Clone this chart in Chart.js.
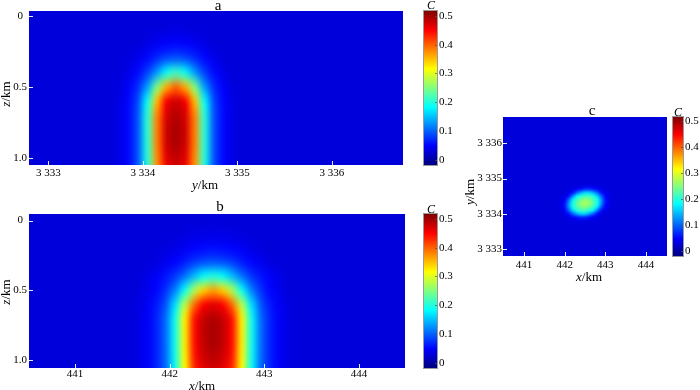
<!DOCTYPE html>
<html>
<head>
<meta charset="utf-8">
<script src="https://cdn.jsdelivr.net/npm/chart.js@4.4.1/dist/chart.umd.min.js"></script>
<style>
    body { margin: 0; background: #fff; width: 700px; height: 390px; position: relative; overflow: hidden; font-family: "Liberation Serif", serif; }
    .box { position: absolute; }
    .txt { position: absolute; transform: translate(-50%, -50%); white-space: nowrap; color: #000; font-size: 13px; line-height: 1; }
    .rot { transform: translate(-50%, -50%) rotate(-90deg); }
</style>
</head>
<body>
<div class="box" style="left:0;top:0;width:410px;height:195px"><canvas id="chartA"></canvas></div>
<div class="box" style="left:415px;top:0;width:50px;height:195px"><canvas id="barA"></canvas></div>
<div class="box" style="left:0;top:195px;width:410px;height:195px"><canvas id="chartB"></canvas></div>
<div class="box" style="left:415px;top:195px;width:50px;height:195px"><canvas id="barB"></canvas></div>
<div class="box" style="left:460px;top:100px;width:210px;height:190px"><canvas id="chartC"></canvas></div>
<div class="box" style="left:665px;top:100px;width:35px;height:170px"><canvas id="barC"></canvas></div>

<div class="txt" style="left:218px;top:5px;font-size:15px">a</div>
<div class="txt" style="left:220px;top:206px;font-size:15px">b</div>
<div class="txt" style="left:592px;top:110px;font-size:15px">c</div>
<div class="txt" style="left:205px;top:184px"><i>y</i>/km</div>
<div class="txt" style="left:202px;top:385px"><i>x</i>/km</div>
<div class="txt" style="left:589px;top:276px"><i>x</i>/km</div>
<div class="txt rot" style="left:5px;top:94px"><i>z</i>/km</div>
<div class="txt rot" style="left:5px;top:292px"><i>z</i>/km</div>
<div class="txt rot" style="left:469px;top:192px"><i>y</i>/km</div>
<div class="txt" style="left:431px;top:5px;font-size:12px"><i>C</i></div>
<div class="txt" style="left:431px;top:209px;font-size:12px"><i>C</i></div>
<div class="txt" style="left:678px;top:112px;font-size:12px"><i>C</i></div>

<script>
// colour scale (shared by all three panels)
const cMin = -0.018, cMax = 0.517;
const cbTicks = [0, 0.1, 0.2, 0.3, 0.4, 0.5];
const cbLabels = ['0', '0.1', '0.2', '0.3', '0.4', '0.5'];
const bgC = 0.03;

// axis ranges and ticks
const aYRange = [3332.796, 3336.754];
const aZRange = [-0.035, 1.049];
const bXRange = [440.514, 444.486];
const bZRange = [-0.047, 1.057];
const cXRange = [440.484, 444.516];
const cYRange = [3332.80, 3336.747];
const yTicks = [3333, 3334, 3335, 3336];
const yLabels = ['3 333', '3 334', '3 335', '3 336'];
const xTicks = [441, 442, 443, 444];
const xLabels = ['441', '442', '443', '444'];
const zTicks = [0, 0.5, 1.0];
const zLabels = ['0', '0.5', '1.0'];

// a: C on the y-z section
const aY = [3333.65, 3333.75, 3333.85, 3333.95, 3334.05, 3334.15, 3334.25, 3334.35, 3334.45, 3334.55, 3334.65, 3334.75, 3334.85, 3334.95, 3335.05];
const aZ = [0, 0.1, 0.2, 0.3, 0.4, 0.5, 0.6, 0.7, 0.8, 0.9, 1.0, 1.1];
const aC = [
    [0.03, 0.03, 0.03, 0.03, 0.03, 0.03, 0.03, 0.03, 0.03, 0.03, 0.03, 0.03, 0.03, 0.03, 0.03],
    [0.03, 0.03, 0.03, 0.03, 0.03, 0.031, 0.033, 0.034, 0.033, 0.031, 0.03, 0.03, 0.03, 0.03, 0.03],
    [0.03, 0.03, 0.03, 0.03, 0.037, 0.044, 0.05, 0.052, 0.05, 0.044, 0.037, 0.03, 0.03, 0.03, 0.03],
    [0.03, 0.03, 0.031, 0.04, 0.053, 0.071, 0.089, 0.095, 0.089, 0.071, 0.053, 0.04, 0.031, 0.03, 0.03],
    [0.03, 0.03, 0.038, 0.054, 0.084, 0.131, 0.19, 0.215, 0.19, 0.131, 0.084, 0.054, 0.038, 0.03, 0.03],
    [0.03, 0.032, 0.046, 0.073, 0.133, 0.249, 0.358, 0.398, 0.358, 0.249, 0.133, 0.073, 0.046, 0.032, 0.03],
    [0.03, 0.035, 0.052, 0.09, 0.19, 0.352, 0.455, 0.476, 0.455, 0.352, 0.19, 0.09, 0.052, 0.035, 0.03],
    [0.03, 0.036, 0.053, 0.095, 0.206, 0.381, 0.47, 0.49, 0.47, 0.381, 0.206, 0.095, 0.053, 0.036, 0.03],
    [0.03, 0.036, 0.053, 0.095, 0.207, 0.383, 0.476, 0.495, 0.476, 0.383, 0.207, 0.095, 0.053, 0.036, 0.03],
    [0.03, 0.036, 0.053, 0.095, 0.207, 0.383, 0.474, 0.493, 0.474, 0.383, 0.207, 0.095, 0.053, 0.036, 0.03],
    [0.03, 0.036, 0.053, 0.095, 0.205, 0.378, 0.465, 0.482, 0.465, 0.378, 0.205, 0.095, 0.053, 0.036, 0.03],
    [0.03, 0.036, 0.053, 0.094, 0.202, 0.37, 0.452, 0.468, 0.452, 0.37, 0.202, 0.094, 0.053, 0.036, 0.03]
];

// b: C on the x-z section
const bX = [441.56, 441.66, 441.76, 441.86, 441.96, 442.06, 442.16, 442.26, 442.36, 442.46, 442.56, 442.66, 442.76, 442.86, 442.96, 443.06, 443.16, 443.26, 443.36];
const bZ = [0, 0.1, 0.2, 0.3, 0.4, 0.5, 0.6, 0.7, 0.8, 0.9, 1.0, 1.1];
const bC = [
    [0.03, 0.03, 0.03, 0.03, 0.03, 0.03, 0.03, 0.03, 0.03, 0.03, 0.03, 0.03, 0.03, 0.03, 0.03, 0.03, 0.03, 0.03, 0.03],
    [0.03, 0.03, 0.03, 0.03, 0.03, 0.03, 0.032, 0.035, 0.036, 0.037, 0.036, 0.035, 0.032, 0.03, 0.03, 0.03, 0.03, 0.03, 0.03],
    [0.03, 0.03, 0.03, 0.03, 0.032, 0.037, 0.043, 0.05, 0.053, 0.055, 0.053, 0.05, 0.043, 0.037, 0.032, 0.03, 0.03, 0.03, 0.03],
    [0.03, 0.03, 0.03, 0.033, 0.041, 0.051, 0.063, 0.08, 0.091, 0.095, 0.091, 0.08, 0.063, 0.051, 0.041, 0.033, 0.03, 0.03, 0.03],
    [0.03, 0.03, 0.036, 0.045, 0.059, 0.078, 0.11, 0.149, 0.187, 0.2, 0.187, 0.149, 0.11, 0.078, 0.059, 0.045, 0.036, 0.03, 0.03],
    [0.03, 0.03, 0.039, 0.051, 0.075, 0.118, 0.19, 0.273, 0.34, 0.365, 0.34, 0.273, 0.19, 0.118, 0.075, 0.051, 0.039, 0.03, 0.03],
    [0.03, 0.033, 0.043, 0.061, 0.095, 0.167, 0.277, 0.392, 0.45, 0.464, 0.45, 0.392, 0.277, 0.167, 0.095, 0.061, 0.043, 0.033, 0.03],
    [0.03, 0.034, 0.045, 0.066, 0.107, 0.195, 0.325, 0.44, 0.479, 0.49, 0.479, 0.44, 0.325, 0.195, 0.107, 0.066, 0.045, 0.034, 0.03],
    [0.03, 0.034, 0.045, 0.066, 0.108, 0.196, 0.326, 0.443, 0.483, 0.495, 0.483, 0.443, 0.326, 0.196, 0.108, 0.066, 0.045, 0.034, 0.03],
    [0.03, 0.034, 0.045, 0.066, 0.108, 0.196, 0.326, 0.442, 0.481, 0.493, 0.481, 0.442, 0.326, 0.196, 0.108, 0.066, 0.045, 0.034, 0.03],
    [0.03, 0.034, 0.045, 0.066, 0.107, 0.194, 0.322, 0.436, 0.472, 0.483, 0.472, 0.436, 0.322, 0.194, 0.107, 0.066, 0.045, 0.034, 0.03],
    [0.03, 0.034, 0.045, 0.065, 0.105, 0.19, 0.316, 0.427, 0.46, 0.47, 0.46, 0.427, 0.316, 0.19, 0.105, 0.065, 0.045, 0.034, 0.03]
];

// c: C on the x-y plane
const cX = [441.8, 441.9, 442.0, 442.1, 442.2, 442.3, 442.4, 442.5, 442.6, 442.7, 442.8, 442.9, 443.0, 443.1, 443.2];
const cY = [3333.7, 3333.8, 3333.9, 3334.0, 3334.1, 3334.2, 3334.3, 3334.4, 3334.5, 3334.6, 3334.7, 3334.8, 3334.9];
const cC = [
    [0.03, 0.03, 0.03, 0.03, 0.03, 0.03, 0.03, 0.03, 0.03, 0.03, 0.03, 0.03, 0.03, 0.03, 0.03],
    [0.03, 0.03, 0.03, 0.03, 0.033, 0.035, 0.036, 0.036, 0.033, 0.03, 0.03, 0.03, 0.03, 0.03, 0.03],
    [0.03, 0.03, 0.032, 0.037, 0.051, 0.062, 0.073, 0.07, 0.057, 0.046, 0.035, 0.03, 0.03, 0.03, 0.03],
    [0.03, 0.03, 0.039, 0.058, 0.102, 0.138, 0.158, 0.158, 0.136, 0.1, 0.057, 0.037, 0.03, 0.03, 0.03],
    [0.03, 0.034, 0.051, 0.1, 0.16, 0.198, 0.216, 0.217, 0.204, 0.177, 0.117, 0.058, 0.036, 0.03, 0.03],
    [0.03, 0.036, 0.058, 0.125, 0.19, 0.224, 0.247, 0.253, 0.24, 0.214, 0.172, 0.1, 0.049, 0.033, 0.03],
    [0.03, 0.035, 0.057, 0.125, 0.192, 0.23, 0.258, 0.27, 0.258, 0.23, 0.192, 0.125, 0.057, 0.035, 0.03],
    [0.03, 0.033, 0.049, 0.1, 0.172, 0.214, 0.24, 0.253, 0.247, 0.224, 0.19, 0.125, 0.058, 0.036, 0.03],
    [0.03, 0.03, 0.036, 0.058, 0.117, 0.177, 0.204, 0.217, 0.216, 0.198, 0.16, 0.1, 0.051, 0.034, 0.03],
    [0.03, 0.03, 0.03, 0.037, 0.057, 0.1, 0.136, 0.158, 0.158, 0.138, 0.102, 0.058, 0.039, 0.03, 0.03],
    [0.03, 0.03, 0.03, 0.03, 0.035, 0.046, 0.057, 0.07, 0.073, 0.062, 0.051, 0.037, 0.032, 0.03, 0.03],
    [0.03, 0.03, 0.03, 0.03, 0.03, 0.03, 0.033, 0.036, 0.036, 0.035, 0.033, 0.03, 0.03, 0.03, 0.03],
    [0.03, 0.03, 0.03, 0.03, 0.03, 0.03, 0.03, 0.03, 0.03, 0.03, 0.03, 0.03, 0.03, 0.03, 0.03]
];

const tickFont = { family: 'Liberation Serif', size: 11 };

// jet colour map
function jet(v) {
    const t = Math.min(1, Math.max(0, (v - cMin) / (cMax - cMin)));
    const f = k => Math.round(255 * Math.min(1, Math.max(0, 1.5 - Math.abs(4 * t - k))));
    return [f(3), f(2), f(1)];
}
const rgb = c => `rgb(${c[0]},${c[1]},${c[2]})`;

// draws the grid cells on the plot, placed by the chart scales (smooth shading)
function heatLayer(cols, rows, vals) {
    return {
        id: 'heat',
        beforeDatasetsDraw(chart) {
            const { ctx, chartArea: ca, scales: { x, y } } = chart;
            const nc = cols.length, nr = rows.length;
            const dx = cols[1] - cols[0], dy = rows[1] - rows[0];
            const x0 = x.getPixelForValue(cols[0] - dx / 2), x1 = x.getPixelForValue(cols[nc - 1] + dx / 2);
            const y0 = y.getPixelForValue(rows[0] - dy / 2), y1 = y.getPixelForValue(rows[nr - 1] + dy / 2);
            const flip = y0 > y1;
            const off = document.createElement('canvas');
            off.width = nc; off.height = nr;
            const octx = off.getContext('2d');
            const img = octx.createImageData(nc, nr);
            for (let r = 0; r < nr; r++) {
                const row = vals[flip ? nr - 1 - r : r];
                for (let c = 0; c < nc; c++) {
                    const col = jet(row[c]);
                    const i = (r * nc + c) * 4;
                    img.data[i] = col[0]; img.data[i + 1] = col[1]; img.data[i + 2] = col[2]; img.data[i + 3] = 255;
                }
            }
            octx.putImageData(img, 0, 0);
            ctx.save();
            ctx.beginPath();
            ctx.rect(ca.left, ca.top, ca.width, ca.height);
            ctx.clip();
            ctx.fillStyle = rgb(jet(bgC));
            ctx.fillRect(ca.left, ca.top, ca.width, ca.height);
            ctx.imageSmoothingEnabled = true;
            ctx.imageSmoothingQuality = 'high';
            ctx.drawImage(off, Math.min(x0, x1), Math.min(y0, y1), Math.abs(x1 - x0), Math.abs(y1 - y0));
            ctx.restore();
        }
    };
}

// small white ticks pointing into the plot
const innerTicks = {
    id: 'innerTicks',
    afterDraw(chart) {
        const { ctx, chartArea: ca, scales: { x, y } } = chart;
        ctx.save();
        ctx.strokeStyle = 'rgba(255,255,255,0.9)';
        ctx.lineWidth = 1;
        x.ticks.forEach(t => {
            const px = Math.round(x.getPixelForValue(t.value)) + 0.5;
            ctx.beginPath(); ctx.moveTo(px, ca.bottom); ctx.lineTo(px, ca.bottom - 4); ctx.stroke();
        });
        y.ticks.forEach(t => {
            const py = Math.round(y.getPixelForValue(t.value)) + 0.5;
            ctx.beginPath(); ctx.moveTo(ca.left, py); ctx.lineTo(ca.left + 4, py); ctx.stroke();
        });
        ctx.restore();
    }
};

function heatChart(id, o) {
    return new Chart(document.getElementById(id), {
        type: 'scatter',
        data: { datasets: [{ data: [] }] },
        options: {
            responsive: true,
            maintainAspectRatio: false,
            animation: false,
            events: [],
            layout: { padding: { top: o.top, right: o.right, left: 0, bottom: 0 } },
            plugins: { legend: { display: false }, tooltip: { enabled: false } },
            scales: {
                x: {
                    type: 'linear', min: o.xr[0], max: o.xr[1],
                    grid: { display: false, drawTicks: false }, border: { display: false },
                    ticks: { font: tickFont, color: '#000', padding: o.xPad, maxRotation: 0, autoSkip: false,
                        callback: (v, i) => o.xl[i] },
                    afterBuildTicks: s => { s.ticks = o.xt.map(v => ({ value: v })); },
                    afterFit: s => { s.height = o.xh; }
                },
                y: {
                    type: 'linear', min: o.yr[0], max: o.yr[1], reverse: o.rev,
                    grid: { display: false, drawTicks: false }, border: { display: false },
                    ticks: { font: tickFont, color: '#000', padding: o.yPad, crossAlign: o.cross, autoSkip: false,
                        callback: (v, i) => o.yl[i] },
                    afterBuildTicks: s => { s.ticks = o.yt.map(v => ({ value: v })); },
                    afterFit: s => { s.width = o.yw; }
                }
            }
        },
        plugins: [heatLayer(o.cols, o.rows, o.vals), innerTicks]
    });
}

// colour bar painted through its own y scale
const barFill = {
    id: 'barFill',
    beforeDatasetsDraw(chart) {
        const { ctx, chartArea: ca, scales: { y } } = chart;
        ctx.save();
        for (let py = Math.floor(ca.top); py < ca.bottom; py++) {
            ctx.fillStyle = rgb(jet(y.getValueForPixel(py + 0.5)));
            ctx.fillRect(ca.left, py, ca.width, 1);
        }
        ctx.strokeStyle = '#9a9a9a';
        ctx.lineWidth = 1;
        ctx.strokeRect(Math.round(ca.left) - 0.5, Math.round(ca.top) - 0.5, Math.round(ca.width) + 1, Math.round(ca.height) + 1);
        ctx.strokeStyle = 'rgba(80,80,80,0.7)';
        y.ticks.forEach(t => {
            const py = Math.round(y.getPixelForValue(t.value)) + 0.5;
            ctx.beginPath(); ctx.moveTo(ca.right - 2, py); ctx.lineTo(ca.right, py); ctx.stroke();
        });
        ctx.restore();
    }
};

function colorBar(id, o) {
    return new Chart(document.getElementById(id), {
        type: 'scatter',
        data: { datasets: [{ data: [] }] },
        options: {
            responsive: true,
            maintainAspectRatio: false,
            animation: false,
            events: [],
            layout: { padding: { top: o.top, bottom: o.bottom, left: o.left, right: 0 } },
            plugins: { legend: { display: false }, tooltip: { enabled: false } },
            scales: {
                x: { display: false, min: 0, max: 1 },
                y: {
                    position: 'right', min: cMin, max: cMax,
                    grid: { display: false, drawTicks: false }, border: { display: false },
                    ticks: { font: tickFont, color: '#000', padding: 2, autoSkip: false,
                        callback: (v, i) => cbLabels[i] },
                    afterBuildTicks: s => { s.ticks = cbTicks.map(v => ({ value: v })); },
                    afterFit: s => { s.width = o.w; }
                }
            }
        },
        plugins: [barFill]
    });
}

heatChart('chartA', { top: 11, right: 7, xh: 30, yw: 29, xPad: 2, yPad: 2, cross: 'center', rev: true,
    xr: aYRange, yr: aZRange, xt: yTicks, xl: yLabels, yt: zTicks, yl: zLabels, cols: aY, rows: aZ, vals: aC });
heatChart('chartB', { top: 19, right: 5, xh: 22, yw: 29, xPad: 0, yPad: 2, cross: 'center', rev: true,
    xr: bXRange, yr: bZRange, xt: xTicks, xl: xLabels, yt: zTicks, yl: zLabels, cols: bX, rows: bZ, vals: bC });
heatChart('chartC', { top: 17, right: 3, xh: 34, yw: 43, xPad: 3, yPad: 1, cross: 'near', rev: false,
    xr: cXRange, yr: cYRange, xt: xTicks, xl: xLabels, yt: yTicks, yl: yLabels, cols: cX, rows: cY, vals: cC });

colorBar('barA', { top: 11, bottom: 30, left: 9, w: 28 });
colorBar('barB', { top: 19, bottom: 22, left: 9, w: 28 });
colorBar('barC', { top: 17, bottom: 14, left: 8, w: 17 });
</script>
</body>
</html>
